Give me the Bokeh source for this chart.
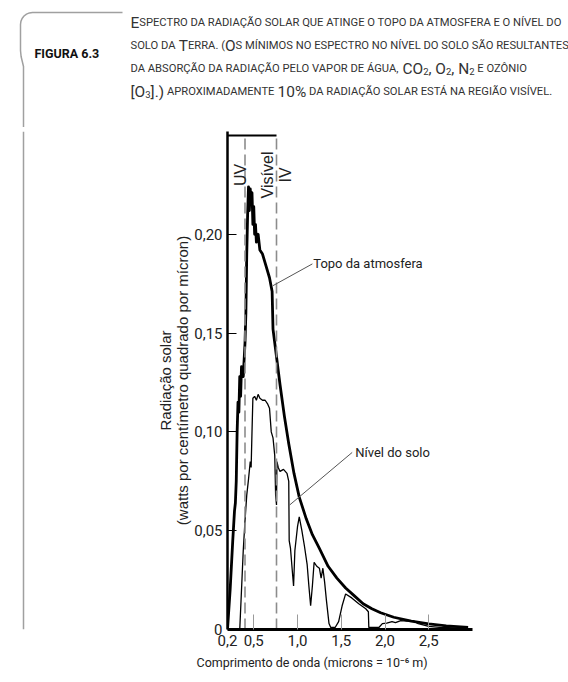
import math
import unicodedata
from bokeh.plotting import figure
from bokeh.models import Label, FixedTicker, CustomJSTickFormatter, Title
from bokeh.layouts import column, row
from bokeh.core.properties import value
from bokeh.embed import file_html
from bokeh.resources import INLINE

# ---------------- data ----------------
toa_wavelength = [0.20, 0.23, 0.26, 0.28, 0.29, 0.30, 0.31, 0.32, 0.33, 0.34, 0.35, 0.36, 0.38,
                  0.40, 0.41, 0.42, 0.43, 0.44, 0.45, 0.46, 0.47, 0.48, 0.49, 0.50, 0.51, 0.52,
                  0.53, 0.55, 0.57, 0.60, 0.64, 0.68, 0.71, 0.72, 0.76, 0.80, 0.85, 0.90, 0.96,
                  1.02, 1.10, 1.17, 1.25, 1.35, 1.45, 1.55, 1.65, 1.75, 1.85, 1.95, 2.10, 2.30,
                  2.50, 2.70, 2.95]
toa_radiation = [0.0, 0.020, 0.045, 0.060, 0.064, 0.075, 0.100, 0.115, 0.110, 0.128, 0.118, 0.133, 0.128,
                 0.145, 0.160, 0.190, 0.210, 0.224, 0.212, 0.223, 0.216, 0.221, 0.205, 0.214, 0.200, 0.205,
                 0.196, 0.200, 0.192, 0.190, 0.184, 0.178, 0.171, 0.152, 0.138, 0.124, 0.108, 0.094, 0.079,
                 0.067, 0.056, 0.048, 0.041, 0.032, 0.026, 0.021, 0.017, 0.013, 0.0105, 0.0085, 0.0062, 0.0042,
                 0.0028, 0.0018, 0.0011]

ground_wavelength = [0.34, 0.36, 0.38, 0.40, 0.42, 0.44, 0.46, 0.47, 0.48, 0.49, 0.51, 0.53, 0.55,
                     0.57, 0.60, 0.63, 0.66, 0.68, 0.69, 0.70, 0.72, 0.74, 0.75, 0.76, 0.765, 0.78,
                     0.80, 0.84, 0.88, 0.90, 0.905, 0.92, 0.94, 0.955, 0.97, 1.00, 1.02, 1.05, 1.08,
                     1.11, 1.13, 1.15, 1.17, 1.19, 1.22, 1.25, 1.27, 1.29, 1.31, 1.33, 1.36, 1.38,
                     1.43, 1.47, 1.51, 1.55, 1.62, 1.70, 1.78, 1.81, 1.815, 1.93, 1.97, 2.02, 2.08,
                     2.12, 2.18, 2.25, 2.32, 2.38, 2.50, 2.65, 2.80, 2.95]
ground_radiation = [0.0, 0.020, 0.040, 0.055, 0.068, 0.076, 0.085, 0.082, 0.100, 0.117, 0.118, 0.116, 0.119,
                    0.117, 0.116, 0.116, 0.114, 0.112, 0.106, 0.100, 0.097, 0.088, 0.068, 0.063, 0.085, 0.082,
                    0.080, 0.081, 0.079, 0.075, 0.045, 0.041, 0.030, 0.022, 0.040, 0.052, 0.057, 0.050, 0.042,
                    0.033, 0.022, 0.012, 0.022, 0.034, 0.032, 0.031, 0.026, 0.031, 0.024, 0.015, 0.003, 0.001,
                    0.001, 0.004, 0.012, 0.018, 0.016, 0.013, 0.0105, 0.009, 0.001, 0.001, 0.003, 0.0032, 0.004,
                    0.0035, 0.0045, 0.0042, 0.0045, 0.003, 0.0016, 0.001, 0.0008, 0.0006]

x_ticks = [0.2, 0.5, 1.0, 1.5, 2.0, 2.5]
y_ticks = [0.0, 0.05, 0.10, 0.15, 0.20]
uv_visible_boundary = 0.40
visible_ir_boundary = 0.76
band_labels = ["UV", "Visível", "IV"]
band_label_x = [0.35, 0.66, 0.86]
band_label_y = 0.230

x_title = "Comprimento de onda (microns = 10⁻⁶ m)"
y_title = "Radiação solar\n(watts por centímetro quadrado por mícron)"
figure_tag = "FIGURA 6.3"
caption_lines = [
    [("E", "b"), ("SPECTRO DA RADIAÇÃO SOLAR QUE ATINGE O TOPO DA ATMOSFERA E O NÍVEL DO", "s")],
    [("SOLO DA ", "s"), ("T", "b"), ("ERRA. (", "s"), ("O", "b"),
     ("S MÍNIMOS NO ESPECTRO NO NÍVEL DO SOLO SÃO RESULTANTES", "s")],
    [("DA ABSORÇÃO DA RADIAÇÃO PELO VAPOR DE ÁGUA, ", "s"), ("CO", "b"), ("2", "sub"), (", O", "b"),
     ("2", "sub"), (", N", "b"), ("2", "sub"), (" E OZÔNIO", "s")],
    [("[O", "b"), ("3", "sub"), ("].)", "b"), (" APROXIMADAMENTE ", "s"), ("10%", "b"),
     (" DA RADIAÇÃO SOLAR ESTÁ NA REGIÃO VISÍVEL.", "s")],
]

# ---------------- layout constants ----------------
W, H = 568, 682
HEADER_H = 127
STRIP_W = 40
FRAME_LEFT, FRAME_RIGHT, FRAME_TOP, FRAME_BOTTOM = 227, 472, 131, 629
FONT = "Roboto"
REG = "Liberation Sans"
INK = "#222222"
GRAY_RULE = "#a0a0a0"


def blank_fig(w, h):
    f = figure(width=w, height=h, x_range=(0, w), y_range=(h, 0), output_backend="svg",
               toolbar_location=None, x_axis_type=None, y_axis_type=None,
               min_border=0, min_border_left=0, min_border_right=0,
               min_border_top=0, min_border_bottom=0)
    f.outline_line_color = None
    f.xgrid.visible = False
    f.ygrid.visible = False
    f.background_fill_color = "white"
    f.border_fill_color = "white"
    return f


# ---------------- header ----------------
hdr = blank_fig(W, HEADER_H)
pts = [(122, 12), (32, 12)]
for k in range(1, 7):
    a = k * (math.pi / 2) / 6
    pts.append((32 - 12 * math.sin(a), 24 - 12 * math.cos(a)))
pts += [(20, 50), (20.6, 56), (21.8, 61), (23, 66), (23, HEADER_H)]
hdr.line([q[0] for q in pts], [q[1] for q in pts], line_color=GRAY_RULE, line_width=1.5)
hdr.text(x=[34], y=[53], text=[figure_tag], text_font=value(FONT), text_font_size=value("12.5px"),
         text_color="#111111", text_baseline="alphabetic", text_font_style="bold")

RW = {"A": .652, "B": .623, "C": .651, "D": .656, "E": .568, "F": .553, "G": .681, "H": .714,
      "I": .272, "J": .553, "K": .627, "L": .538, "M": .873, "N": .714, "O": .688, "P": .632,
      "Q": .688, "R": .616, "S": .594, "T": .597, "U": .649, "V": .636, "W": .887, "X": .627,
      "Y": .601, "Z": .600, " ": .248, ".": .264, ",": .196, "(": .342, ")": .348, "[": .266,
      "]": .266, "%": .733}


def adv(ch):
    base = unicodedata.normalize("NFD", ch)[0]
    if base.isdigit():
        return 0.562
    return RW.get(base, 0.6)


def em(text):
    return sum(adv(c) for c in text)


CAP_X, CAP_END = 130, 563
first = caption_lines[0]
s_size = (CAP_END - CAP_X) / (em(first[1][0]) + 1.38 * em(first[0][0]))
SIZES = {"s": s_size, "b": s_size * 1.38, "sub": s_size * 0.85}
baselines = [22, 45, 68, 91]
groups = {k: ([], [], []) for k in SIZES}
for line, base in zip(caption_lines, baselines):
    x = CAP_X
    for text, kind in line:
        size = SIZES[kind]
        lead = len(text) - len(text.lstrip(" "))
        gx, gy, gt = groups[kind]
        gx.append(x + lead * adv(" ") * size)
        gy.append(base + (3 if kind == "sub" else 0))
        gt.append(text.strip(" "))
        x += em(text) * size
for kind, (gx, gy, gt) in groups.items():
    hdr.text(x=gx, y=gy, text=gt, text_font=value(FONT),
             text_font_size=value(f"{SIZES[kind]:.2f}px"),
             text_color="#333333", text_baseline="alphabetic")

# ---------------- left strip (continuation of the margin rule) ----------------
strip = blank_fig(STRIP_W, H - HEADER_H)
strip.line([23, 23], [0, H - HEADER_H], line_color=GRAY_RULE, line_width=1.5)

# ---------------- chart ----------------
CW = W - STRIP_W
CH = H - HEADER_H
p = figure(width=CW, height=CH, x_range=(0.2, 3.0), y_range=(0, 0.252),
           output_backend="svg", toolbar_location=None,
           min_border_left=FRAME_LEFT - STRIP_W, min_border_right=W - FRAME_RIGHT,
           min_border_top=FRAME_TOP - HEADER_H, min_border_bottom=H - FRAME_BOTTOM)
p.outline_line_color = None
p.xgrid.visible = False
p.ygrid.visible = False
p.background_fill_color = "white"
p.border_fill_color = "white"

p.line(ground_wavelength, ground_radiation, line_color="black", line_width=1.3)
p.line(toa_wavelength, toa_radiation, line_color="black", line_width=2.8, line_join="round")

top_val = 0.25
p.segment(x0=[uv_visible_boundary, visible_ir_boundary], y0=[0, 0],
          x1=[uv_visible_boundary, visible_ir_boundary], y1=[top_val, top_val],
          line_color="#8c8c8c", line_width=1.6, line_dash="11 5")
p.segment(x0=[0.2], y0=[top_val], x1=[visible_ir_boundary], y1=[top_val],
          line_color="black", line_width=2)

for t, bx in zip(band_labels, band_label_x):
    p.add_layout(Label(x=bx, y=band_label_y, text=t, angle=math.pi / 2,
                       text_align="center", text_baseline="middle",
                       text_font=REG, text_font_size="16px", text_color=INK))

p.segment(x0=[0.72, 0.91], y0=[0.174, 0.063], x1=[1.17, 1.625], y1=[0.185, 0.0896],
          line_color="#555555", line_width=1)
p.add_layout(Label(x=1.18, y=0.185, text="Topo da atmosfera", text_baseline="middle",
                   text_font=FONT, text_font_size="13px", text_color=INK))
p.add_layout(Label(x=1.66, y=0.0895, text="Nível do solo", text_baseline="middle",
                   text_font=FONT, text_font_size="13px", text_color=INK))

xa = p.xaxis[0]
xa.ticker = FixedTicker(ticks=x_ticks)
xa.formatter = CustomJSTickFormatter(code="return tick.toFixed(1).replace('.', ',')")
xa.axis_line_width = 3
xa.major_tick_in = 15
xa.major_tick_out = 0
xa.major_tick_line_color = "#9a9a9a"
xa.minor_tick_line_color = None
xa.major_label_text_font = FONT
xa.major_label_text_font_size = "15px"
xa.major_label_text_color = INK
xa.major_label_standoff = 5

# x title sits left of the frame centre in the reference, so it is a left-aligned title below the axis
p.add_layout(Title(text=x_title, align="left", offset=-31, standoff=8,
                   text_font=FONT, text_font_size="12.5px", text_font_style="normal",
                   text_color=INK), "below")

ya = p.yaxis[0]
ya.ticker = FixedTicker(ticks=y_ticks)
ya.formatter = CustomJSTickFormatter(code="return tick == 0 ? '0' : tick.toFixed(2).replace('.', ',')")
ya.axis_line_width = 2.5
ya.major_tick_in = 9
ya.major_tick_out = 0
ya.minor_tick_line_color = None
ya.major_label_text_font = FONT
ya.major_label_text_font_size = "15px"
ya.major_label_text_color = INK
ya.major_label_standoff = 5
ya.axis_label = y_title
ya.axis_label_text_font = REG
ya.axis_label_text_font_size = "15px"
ya.axis_label_text_font_style = "normal"
ya.axis_label_text_color = INK
ya.axis_label_text_line_height = 1.0
ya.axis_label_standoff = 0

layout = column(hdr, row(strip, p, spacing=0), spacing=0)
open("out.html", "w").write(file_html(layout, INLINE))
